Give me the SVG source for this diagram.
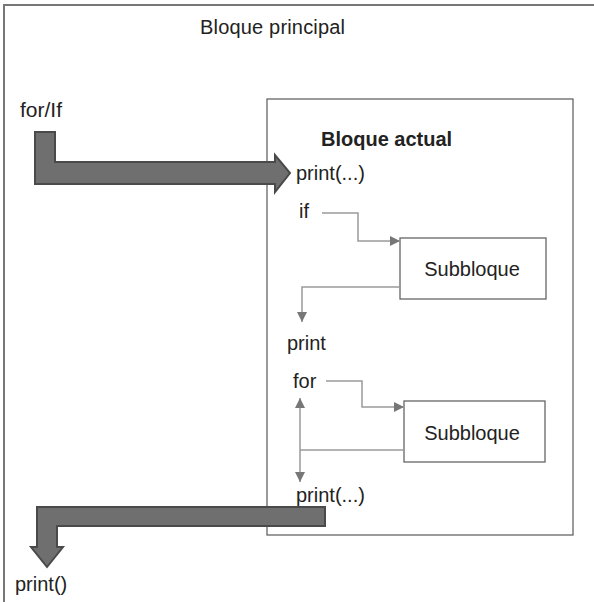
<svg xmlns="http://www.w3.org/2000/svg" width="594" height="602" viewBox="0 0 594 602">
<style>
text{font-family:"Liberation Sans",Arial,sans-serif;font-size:20px;fill:#222}
.b{font-weight:bold}
.box{fill:#fff;stroke:#666;stroke-width:1.3}
.big{fill:#6f6f6f;stroke:#4a4a4a;stroke-width:2;stroke-linejoin:miter}
.ln{fill:none;stroke:#9a9a9a;stroke-width:1.5}
</style>
<defs>
<marker id="ah" viewBox="0 0 10 10" refX="10" refY="5" markerWidth="10" markerHeight="10" markerUnits="userSpaceOnUse" orient="auto-start-reverse">
<path d="M0,0 L10,5 L0,10 Z" fill="#777"/>
</marker>
</defs>
<g id="principal">
<polyline points="4,602 4,5 594,5" fill="none" stroke="#777" stroke-width="2"/>
<text x="200" y="34" textLength="145">Bloque principal</text>
</g>
<g id="actual">
<rect class="box" x="267" y="99" width="306" height="436"/>
<text class="b" x="321" y="146">Bloque actual</text>
</g>
<g id="sub1">
<rect class="box" x="400" y="238" width="146" height="61"/>
<text x="472" y="276" text-anchor="middle">Subbloque</text>
</g>
<g id="sub2">
<rect class="box" x="404" y="401" width="141" height="61"/>
<text x="472" y="440" text-anchor="middle">Subbloque</text>
</g>
<g id="labels">
<text x="20" y="117" style="font-size:21px">for/If</text>
<text x="296" y="180">print(...)</text>
<text x="299" y="218">if</text>
<text x="287" y="350">print</text>
<text x="293" y="388">for</text>
<text x="296" y="502">print(...)</text>
<text x="15" y="591">print()</text>
</g>
<g id="connectors">
<polygon class="big" points="35,132 55,132 55,162 275,162 275,155 290,173 275,192 275,184 35,184"/>
<polygon class="big" points="325,507 325,526 57,526 57,547 63,547 47,567 31,547 37,547 37,507"/>
<polyline class="ln" points="322,213 358,213 358,241 400,241" marker-end="url(#ah)"/>
<polyline class="ln" points="400,287 302,287 302,322" marker-end="url(#ah)"/>
<polyline class="ln" points="326,381 362,381 362,407 404,407" marker-end="url(#ah)"/>
<polyline class="ln" points="404,450 300,450"/>
<line class="ln" x1="300" y1="398" x2="300" y2="482" marker-start="url(#ah)" marker-end="url(#ah)"/>
</g>
</svg>
